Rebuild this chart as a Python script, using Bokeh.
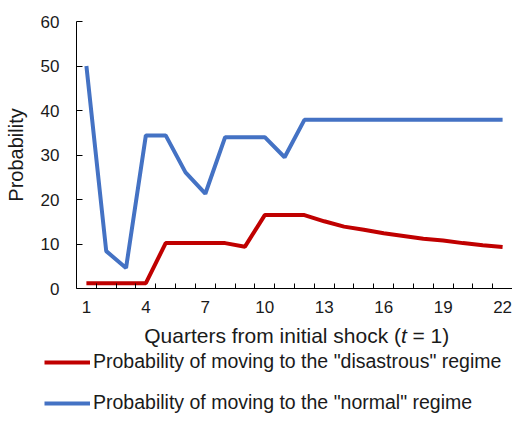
from bokeh.plotting import figure
from bokeh.layouts import column
from bokeh.models import FixedTicker, Legend, LegendItem, Label, Range1d
from bokeh.embed import file_html
from bokeh.resources import INLINE

# quarters from initial shock
quarters = list(range(1, 23))
tick_quarters = [1, 4, 7, 10, 13, 16, 19, 22]

# probability of moving to the "disastrous" regime
disastrous = [1.2, 1.2, 1.2, 1.2, 10.2, 10.2, 10.2, 10.2, 9.4, 16.5, 16.5,
              16.5, 15.1, 13.9, 13.2, 12.4, 11.8, 11.2, 10.8, 10.2, 9.7, 9.3]
# probability of moving to the "normal" regime
normal = [50.0, 8.4, 4.6, 34.4, 34.4, 26.1, 21.3, 34.0, 34.0, 34.0, 29.5,
          37.9, 37.9, 37.9, 37.9, 37.9, 37.9, 37.9, 37.9, 37.9, 37.9, 37.9]

y_ticks = [0, 10, 20, 30, 40, 50, 60]

series_labels = ['Probability of moving to the "disastrous" regime',
                 'Probability of moving to the "normal" regime']

FONT = "Liberation Sans"
TXT = "#1a1a1a"
RED = "#C00000"
BLUE = "#4472C4"
W = 512

p = figure(width=W, height=322, output_backend="svg", toolbar_location=None,
           x_range=Range1d(0.5, 22.5), y_range=Range1d(0, 60),
           min_border_left=76, min_border_right=0, min_border_top=21,
           min_border_bottom=34)
p.frame_align = False
p.outline_line_color = None
p.grid.grid_line_color = None

p.line(quarters, disastrous, line_color=RED, line_width=4)
p.line(quarters, normal, line_color=BLUE, line_width=4)

# x axis: labels on the quarters, tick marks between them
p.xaxis.ticker = FixedTicker(ticks=tick_quarters,
                             minor_ticks=[q + 0.5 for q in quarters])
p.xaxis.major_tick_in = 0
p.xaxis.major_tick_out = 0
p.xaxis.minor_tick_in = 5
p.xaxis.minor_tick_out = 0
p.xaxis.minor_tick_line_color = "black"
p.xaxis.major_label_standoff = 12

p.yaxis.ticker = FixedTicker(ticks=y_ticks)
p.yaxis.major_tick_in = 6
p.yaxis.major_tick_out = 0
p.yaxis.minor_tick_line_color = None
p.yaxis.major_label_standoff = 17
p.yaxis.axis_label = "Probability"
p.yaxis.axis_label_standoff = 11
p.yaxis.axis_label_text_font_style = "normal"
p.yaxis.axis_label_text_font = FONT
p.yaxis.axis_label_text_font_size = "20px"
p.yaxis.axis_label_text_color = TXT

for ax in (p.xaxis, p.yaxis):
    ax.axis_line_color = "black"
    ax.major_tick_line_color = "black"
    ax.major_label_text_font = FONT
    ax.major_label_text_font_size = "17px"
    ax.major_label_text_color = TXT

# lower strip: x axis title (italic t) and legend
p2 = figure(width=W, height=92, output_backend="svg", toolbar_location=None,
            x_range=Range1d(0, W), y_range=Range1d(0, 92),
            x_axis_location=None, y_axis_location=None, min_border=0)
p2.frame_align = False
p2.outline_line_color = None
p2.grid.visible = False

for txt, xpos, align, style in [("Quarters from initial shock (", 400.5, "right", "normal"),
                                ("t", 400.5, "left", "italic"),
                                ("= 1)", 412, "left", "normal")]:
    p2.add_layout(Label(x=xpos, y=79, text=txt, text_align=align,
                        text_baseline="middle", text_font=FONT,
                        text_font_size="21px", text_font_style=style,
                        text_color=TXT))

k_red = p2.line(x=[float("nan")], y=[float("nan")], line_color=RED, line_width=4)
k_blue = p2.line(x=[float("nan")], y=[float("nan")], line_color=BLUE, line_width=4)

legend = Legend(items=[LegendItem(label=series_labels[0], renderers=[k_red]),
                       LegendItem(label=series_labels[1], renderers=[k_blue])],
                location=(44, 0))
legend.border_line_color = None
legend.background_fill_alpha = 0
legend.padding = 0
legend.margin = 0
legend.glyph_width = 46
legend.glyph_height = 22
legend.label_height = 22
legend.spacing = 18
legend.label_standoff = 3
legend.label_text_font = FONT
legend.label_text_font_size = "19.5px"
legend.label_text_color = TXT
p2.add_layout(legend, "center")

open("out.html", "w").write(file_html(column(p, p2), INLINE))
